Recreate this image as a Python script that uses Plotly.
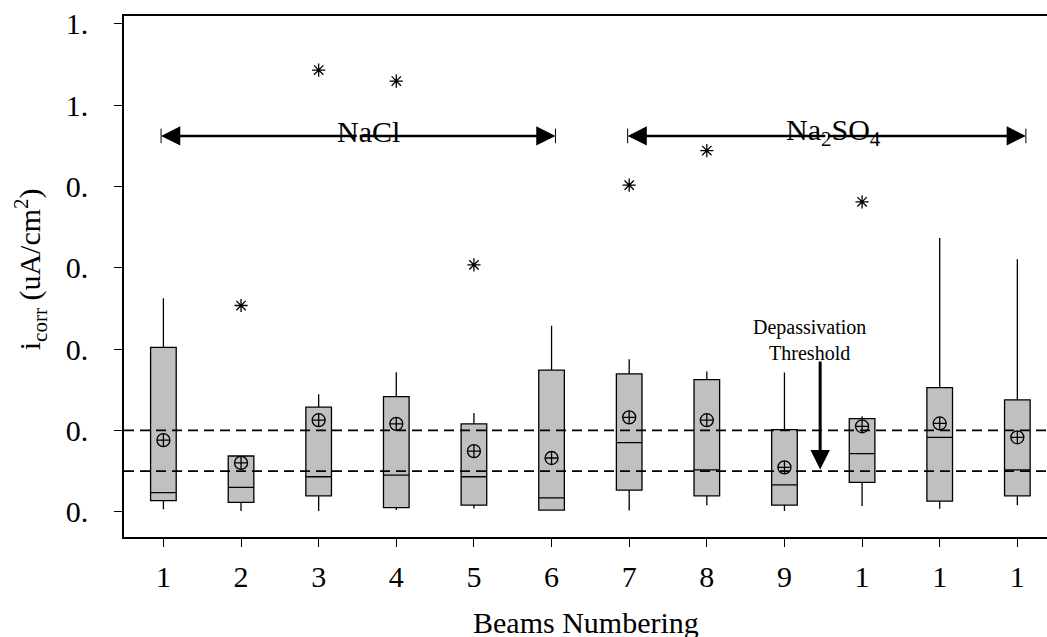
import plotly.graph_objects as go

# ---- data ----
beams = [1, 2, 3, 4, 5, 6, 7, 8, 9, 10, 11, 12]
beam_tick_text = ["1", "2", "3", "4", "5", "6", "7", "8", "9", "1", "1", "1"]
q1 = [0.027, 0.023, 0.039, 0.010, 0.016, 0.004, 0.053, 0.039, 0.016, 0.072, 0.026, 0.039]
median = [0.047, 0.060, 0.086, 0.090, 0.086, 0.034, 0.170, 0.103, 0.066, 0.143, 0.183, 0.103]
q3 = [0.404, 0.137, 0.257, 0.283, 0.216, 0.348, 0.339, 0.325, 0.202, 0.229, 0.305, 0.275]
lower = [0.006, 0.002, 0.002, 0.004, 0.008, 0.004, 0.003, 0.016, 0.002, 0.014, 0.007, 0.016]
upper = [0.525, 0.137, 0.289, 0.343, 0.243, 0.457, 0.375, 0.345, 0.342, 0.235, 0.673, 0.621]
mean = [0.176, 0.120, 0.225, 0.216, 0.149, 0.132, 0.232, 0.225, 0.109, 0.210, 0.217, 0.183]

outlier_beam = [2, 3, 4, 5, 7, 8, 10]
outlier_val = [0.507, 1.086, 1.059, 0.607, 0.803, 0.888, 0.762]

y_tick_vals = [0.0, 0.2, 0.4, 0.6, 0.8, 1.0, 1.2]
y_tick_text = ["0.", "0.", "0.", "0.", "0.", "1.", "1."]

thresholds = [0.2, 0.1]
nacl_span = [0.97, 6.05]
na2so4_span = [6.98, 12.11]
group_y = 0.924
group_text_y = 0.934

FONT = "Liberation Serif"

fig = go.Figure()

fig.add_trace(go.Box(
    x=beams, q1=q1, median=median, q3=q3,
    lowerfence=lower, upperfence=upper,
    boxpoints=False, width=0.33, whiskerwidth=0,
    fillcolor="#c0c0c0", line=dict(color="black", width=1.3),
    showlegend=False, hoverinfo="skip",
))

fig.add_trace(go.Scatter(
    x=beams, y=mean, mode="markers",
    marker=dict(symbol="circle-cross-open", size=13, color="black",
                line=dict(color="black", width=1.3)),
    showlegend=False,
))

fig.add_trace(go.Scatter(
    x=outlier_beam, y=outlier_val, mode="markers",
    marker=dict(symbol="asterisk-open", size=11, color="black",
                line=dict(color="black", width=1.3)),
    showlegend=False,
))

shapes = []
for t in thresholds:
    shapes.append(dict(type="line", xref="paper", x0=0, x1=1, yref="y", y0=t, y1=t,
                       line=dict(color="black", width=1.8, dash="10px,6px")))

annotations = []
for span in [nacl_span, na2so4_span]:
    mid = (span[0] + span[1]) / 2
    for end in span:
        annotations.append(dict(x=end, y=group_y, ax=mid, ay=group_y, xref="x", yref="y",
                                axref="x", ayref="y", text="", showarrow=True,
                                arrowhead=2, arrowsize=1.6, arrowwidth=2.4,
                                arrowcolor="black", standoff=0))
        shapes.append(dict(type="line", xref="x", x0=end, x1=end, yref="y",
                           y0=group_y - 0.018, y1=group_y + 0.018,
                           line=dict(color="black", width=1)))
nacl_text_x = 3.64
na2so4_text_x = 9.63
annotations.append(dict(x=nacl_text_x, y=group_text_y, xref="x", yref="y", text="NaCl",
                        showarrow=False, font=dict(family=FONT, size=30, color="black")))
annotations.append(dict(x=na2so4_text_x, y=group_text_y, xref="x", yref="y",
                        text="Na<sub>2</sub>SO<sub>4</sub>",
                        showarrow=False, font=dict(family=FONT, size=30, color="black")))

# depassivation threshold label and arrow
annotations.append(dict(x=9.46, y=0.104, ax=9.46, ay=0.373, xref="x", yref="y",
                        axref="x", ayref="y", text="", showarrow=True,
                        arrowhead=2, arrowsize=1.3, arrowwidth=3,
                        arrowcolor="black", standoff=0))
annotations.append(dict(x=9.32, y=0.422, xref="x", yref="y",
                        text="Depassivation<br>Threshold", showarrow=False,
                        font=dict(family=FONT, size=20, color="black")))

# axis titles
annotations.append(dict(x=0.5, y=-0.165, xref="paper", yref="paper", text="Beams Numbering",
                        showarrow=False, xanchor="center", yanchor="middle",
                        font=dict(family=FONT, size=30, color="black")))
annotations.append(dict(x=-0.1018, y=0.514, xref="paper", yref="paper",
                        text="i<sub>corr</sub> (uA/cm<sup>2</sup>)", textangle=-90,
                        showarrow=False, xanchor="center", yanchor="middle",
                        font=dict(family=FONT, size=30, color="black")))

fig.update_layout(
    width=1047, height=637,
    margin=dict(l=124, r=0, t=16, b=100),
    paper_bgcolor="white", plot_bgcolor="white",
    font=dict(family=FONT, size=30, color="black"),
    shapes=shapes, annotations=annotations,
    showlegend=False,
)
fig.update_xaxes(
    range=[0.4925, 12.382], tickmode="array", tickvals=beams, ticktext=beam_tick_text,
    ticks="outside", ticklen=8, tickwidth=1, tickcolor="black",
    showline=True, linecolor="black", linewidth=1.5, mirror=True,
    showgrid=False, zeroline=False, ticklabelstandoff=4, automargin=False,
)
fig.update_yaxes(
    range=[-0.0622, 1.2189], tickmode="array", tickvals=y_tick_vals, ticktext=y_tick_text,
    ticks="outside", ticklen=8, tickwidth=1, tickcolor="black",
    showline=True, linecolor="black", linewidth=1.5, mirror=False,
    showgrid=False, zeroline=False, ticklabelstandoff=20, automargin=False,
)

fig.write_html("out.html", config={"displayModeBar": False},
               post_script="document.body.style.margin='0';document.body.style.overflow='hidden';")
